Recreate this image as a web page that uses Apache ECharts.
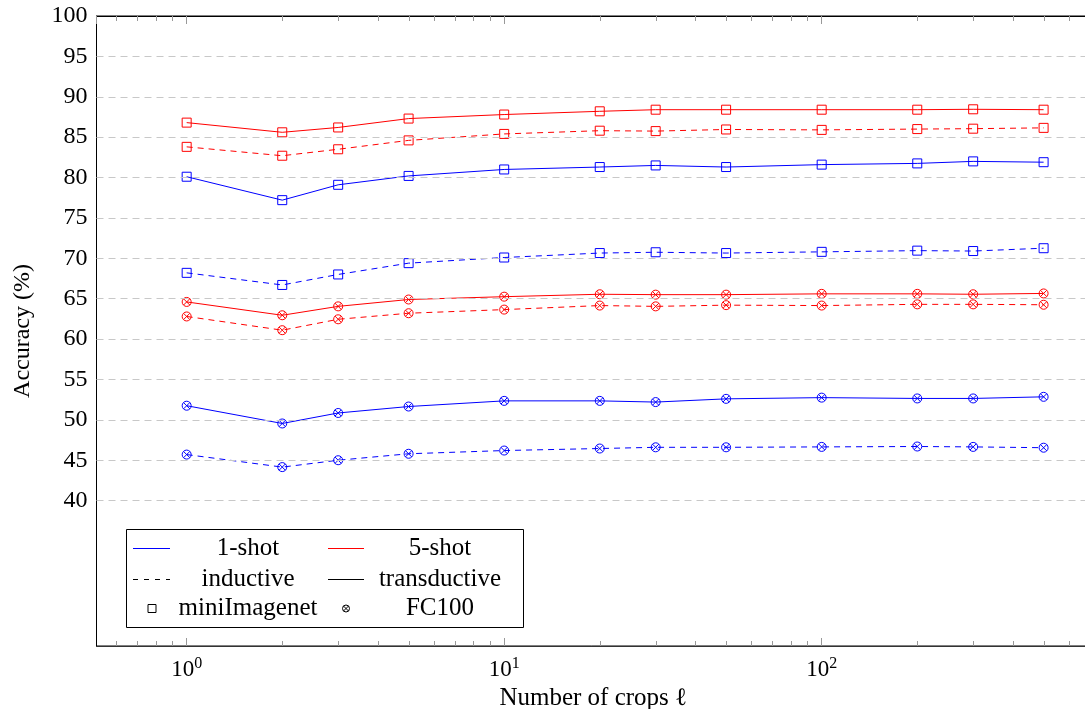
<!DOCTYPE html>
<html>
<head>
<meta charset="utf-8">
<script src="https://cdn.jsdelivr.net/npm/echarts@6/dist/echarts.min.js"></script>
<style>
html,body{margin:0;padding:0;background:#fff;overflow:hidden;}
#chart{width:1085px;height:709px;}
</style>
</head>
<body>
<div id="chart"></div>
<script>
// ---- data ----
const crops = [1, 2, 3, 5, 10, 20, 30, 50, 100, 200, 300, 500];

const mini5Trans = [86.8, 85.6, 86.2, 87.3, 87.8, 88.2, 88.4, 88.4, 88.4, 88.4, 88.45, 88.4];
const mini5Ind   = [83.8, 82.7, 83.5, 84.6, 85.4, 85.8, 85.75, 85.95, 85.9, 86.0, 86.05, 86.15];
const mini1Trans = [80.1, 77.2, 79.1, 80.2, 81.0, 81.3, 81.5, 81.3, 81.6, 81.75, 82.0, 81.9];
const mini1Ind   = [68.2, 66.7, 68.0, 69.4, 70.1, 70.65, 70.75, 70.65, 70.8, 70.95, 70.9, 71.25];
const fc5Trans   = [64.6, 62.95, 64.05, 64.9, 65.25, 65.55, 65.5, 65.5, 65.6, 65.6, 65.55, 65.65];
const fc5Ind     = [62.8, 61.1, 62.45, 63.2, 63.65, 64.15, 64.05, 64.2, 64.15, 64.3, 64.3, 64.25];
const fc1Trans   = [51.75, 49.55, 50.85, 51.65, 52.35, 52.35, 52.2, 52.6, 52.75, 52.65, 52.65, 52.85];
const fc1Ind     = [45.7, 44.15, 45.0, 45.8, 46.2, 46.45, 46.6, 46.6, 46.65, 46.7, 46.65, 46.55];

const yGridTicks = [40, 45, 50, 55, 60, 65, 70, 75, 80, 85, 90, 95];
const minorTicks = [0.6, 0.7, 0.8, 0.9, 2, 3, 4, 5, 6, 7, 8, 9, 20, 30, 40, 50, 60, 70, 80, 90, 200, 300, 400, 500, 600];

const X_MIN = 0.52, X_MAX = 700, Y_MIN = 22, Y_MAX = 100;

const legendRows = [
  ['1-shot', '5-shot'],
  ['inductive', 'transductive'],
  ['miniImagenet', 'FC100']
];

// ---- styles ----
const BLUE = '#0000ff', RED = '#ff0000';
const FONT = '"Liberation Serif", "DejaVu Serif", serif';
const OTIMES = 'path://M10,0A10,10,0,1,1,-10,0A10,10,0,1,1,10,0ZM7.07,7.07L-7.07,-7.07M-7.07,7.07L7.07,-7.07';

function mkSeries(name, vals, color, dashed, symbol) {
  return {
    name: name,
    type: 'line',
    data: crops.map((c, i) => [c, vals[i]]),
    symbol: symbol,
    symbolSize: 9,
    showAllSymbol: true,
    z: 3,
    lineStyle: { color: color, width: 1, type: dashed ? [6, 5] : 'solid' },
    itemStyle: { color: 'rgba(0,0,0,0)', borderColor: color, borderWidth: 1 },
    emphasis: { disabled: true },
    animation: false
  };
}

const xAxisCommon = {
  type: 'log',
  logBase: 10,
  min: X_MIN,
  max: X_MAX,
  splitLine: { show: false },
  axisTick: { show: true, inside: true, length: 8, lineStyle: { color: '#999', width: 1 } },
};

const chart = echarts.init(document.getElementById('chart'), null, { renderer: 'canvas' });

const legendG = [];
legendG.push({ type: 'rect', shape: { x: 126.5, y: 529.5, width: 397, height: 98 },
  style: { fill: '#fff', stroke: '#000', lineWidth: 1 }, z: 100 });
const rowY = [548, 579, 608];
const colText = [248, 440];
const colImg = [[133, 170], [328, 364]];
legendG.push({ type: 'line', shape: { x1: colImg[0][0], y1: rowY[0] + 0.5, x2: colImg[0][1], y2: rowY[0] + 0.5 }, style: { stroke: BLUE, lineWidth: 1 }, z: 101 });
legendG.push({ type: 'line', shape: { x1: colImg[1][0], y1: rowY[0] + 0.5, x2: colImg[1][1], y2: rowY[0] + 0.5 }, style: { stroke: RED, lineWidth: 1 }, z: 101 });
legendG.push({ type: 'line', shape: { x1: colImg[0][0], y1: rowY[1] + 0.5, x2: colImg[0][1], y2: rowY[1] + 0.5 }, style: { stroke: '#000', lineWidth: 1, lineDash: [5, 6] }, z: 101 });
legendG.push({ type: 'line', shape: { x1: colImg[1][0], y1: rowY[1] + 0.5, x2: colImg[1][1], y2: rowY[1] + 0.5 }, style: { stroke: '#000', lineWidth: 1 }, z: 101 });
legendG.push({ type: 'rect', shape: { x: 148, y: 604.5, width: 8, height: 8 }, style: { fill: 'none', stroke: '#000', lineWidth: 1 }, z: 101 });
legendG.push({ type: 'circle', shape: { cx: 346, cy: 608.5, r: 3.5 }, style: { fill: 'none', stroke: '#000', lineWidth: 1 }, z: 101 });
legendG.push({ type: 'line', shape: { x1: 343.5, y1: 606, x2: 348.5, y2: 611 }, style: { stroke: '#000', lineWidth: 1 }, z: 101 });
legendG.push({ type: 'line', shape: { x1: 343.5, y1: 611, x2: 348.5, y2: 606 }, style: { stroke: '#000', lineWidth: 1 }, z: 101 });
legendRows.forEach((row, r) => {
  row.forEach((t, c) => {
    legendG.push({ type: 'text', x: colText[c], y: rowY[r],
      style: { text: t, font: '25px ' + FONT, fill: '#000', align: 'center', verticalAlign: 'middle' }, z: 101 });
  });
});

const option = {
  backgroundColor: '#fff',
  animation: false,
  grid: { left: 96.5, right: -5, top: 16, bottom: 63, outerBoundsMode: 'none', containLabel: false,
          show: true, borderColor: '#000', borderWidth: 1, backgroundColor: 'transparent' },
  xAxis: [
    Object.assign({}, xAxisCommon, {
      position: 'bottom',
      name: 'Number of crops ℓ',
      nameLocation: 'middle',
      nameGap: 38,
      nameTextStyle: { fontFamily: FONT, fontSize: 25, color: '#000' },
      axisLine: { show: true, lineStyle: { color: '#333', width: 1 } },
      axisLabel: {
        show: true, margin: 10, showMinLabel: false, showMaxLabel: false,
        formatter: function (v) { const e = Math.round(Math.log10(v)); return '{b|10}{s|' + e + '}'; },
        rich: {
          b: { fontFamily: FONT, fontSize: 23, color: '#000' },
          s: { fontFamily: FONT, fontSize: 16, color: '#000', verticalAlign: 'bottom', padding: [0, 0, 11, 0] }
        }
      }
    }),
    Object.assign({}, xAxisCommon, {
      position: 'top',
      axisLine: { show: true, lineStyle: { color: '#000', width: 1 } },
      axisLabel: { show: false }
    })
  ],
  yAxis: {
    type: 'value',
    min: Y_MIN,
    max: Y_MAX,
    interval: 1,
    name: 'Accuracy (%)',
    nameLocation: 'middle',
    nameGap: 62,
    nameTextStyle: { fontFamily: FONT, fontSize: 24, color: '#000' },
    axisLine: { show: true, lineStyle: { color: '#000', width: 1 } },
    axisTick: { show: false },
    splitLine: { show: false },
    axisLabel: {
      margin: 9,
      fontFamily: FONT, fontSize: 24, color: '#000',
      formatter: function (v) { return (v >= 40 && v % 5 === 0) ? String(v) : ''; }
    }
  },
  graphic: legendG,
  series: [
    {
      name: 'ticks',
      type: 'custom',
      z: 1,
      silent: true,
      data: minorTicks.map(v => [v, Y_MIN]),
      renderItem: function (params, api) {
        const v = api.value(0);
        const pb = api.coord([v, Y_MIN]);
        const pt = api.coord([v, Y_MAX]);
        const x = Math.round(pb[0]) + 0.5;
        return {
          type: 'group',
          children: [
            { type: 'line', shape: { x1: x, y1: pb[1], x2: x, y2: pb[1] - 5 }, style: { stroke: '#999', lineWidth: 1 } },
            { type: 'line', shape: { x1: x, y1: pt[1], x2: x, y2: pt[1] + 5 }, style: { stroke: '#999', lineWidth: 1 } }
          ]
        };
      },
      markLine: {
        silent: true,
        symbol: ['none', 'none'],
        label: { show: false },
        lineStyle: { color: '#c8c8c8', width: 1, type: [7, 5] },
        emphasis: { disabled: true },
        animation: false,
        data: yGridTicks.map(v => ({ yAxis: v }))
      },
      animation: false
    },
    mkSeries('mini 5-shot trans', mini5Trans, RED, false, 'rect'),
    mkSeries('mini 5-shot ind', mini5Ind, RED, true, 'rect'),
    mkSeries('mini 1-shot trans', mini1Trans, BLUE, false, 'rect'),
    mkSeries('mini 1-shot ind', mini1Ind, BLUE, true, 'rect'),
    mkSeries('FC 5-shot trans', fc5Trans, RED, false, OTIMES),
    mkSeries('FC 5-shot ind', fc5Ind, RED, true, OTIMES),
    mkSeries('FC 1-shot trans', fc1Trans, BLUE, false, OTIMES),
    mkSeries('FC 1-shot ind', fc1Ind, BLUE, true, OTIMES)
  ]
};
chart.setOption(option);
</script>
</body>
</html>
